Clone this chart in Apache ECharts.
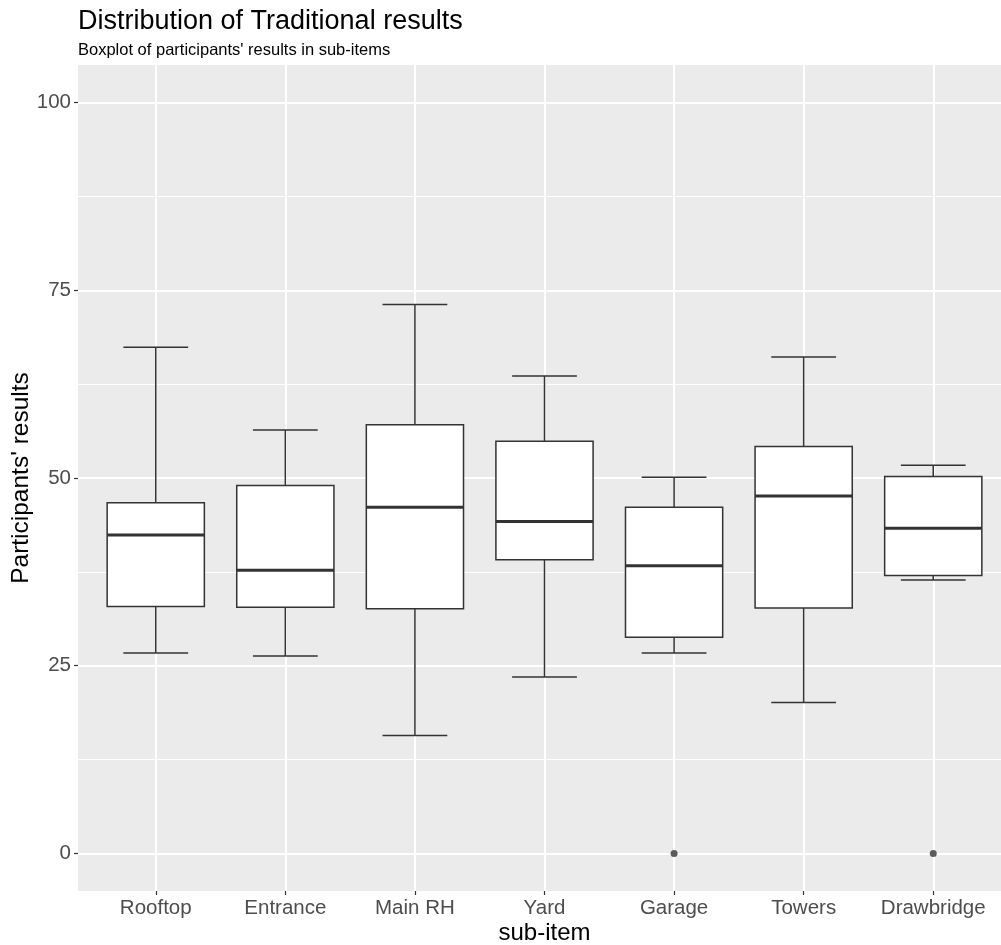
<!DOCTYPE html>
<html>
<head>
<meta charset="utf-8">
<script src="https://cdn.jsdelivr.net/npm/echarts@6/dist/echarts.min.js"></script>
<style>
html,body{margin:0;padding:0;background:#fff;}
#chart{width:1001px;height:945px;}
</style>
</head>
<body>
<div id="chart"></div>
<script>
// ---- data ----
const categories = ['Rooftop', 'Entrance', 'Main RH', 'Yard', 'Garage', 'Towers', 'Drawbridge'];
const whiskerLow = [26.7, 26.3, 15.7, 23.5, 26.7, 20.1, 36.4];
const q1 = [32.9, 32.8, 32.6, 39.1, 28.8, 32.7, 37.0];
const median = [42.4, 37.7, 46.1, 44.2, 38.3, 47.6, 43.3];
const q3 = [46.7, 49.0, 57.1, 54.9, 46.1, 54.2, 50.2];
const whiskerHigh = [67.4, 56.4, 73.1, 63.6, 50.1, 66.1, 51.7];
const outlierCategory = ['Garage', 'Drawbridge'];
const outlierValue = [0, 0];
const yTicks = [0, 25, 50, 75, 100];
const yMinorTicks = [12.5, 37.5, 62.5, 87.5];

// ---- build ----
const FONT = 'Liberation Sans, Arial, sans-serif';
const boxData = categories.map((c, i) => [i, whiskerLow[i], q1[i], median[i], q3[i], whiskerHigh[i]]);
const outlierData = outlierCategory.map((c, k) => [categories.indexOf(c), outlierValue[k]]);
const catIdx = categories.map((c, i) => i);

const chart = echarts.init(document.getElementById('chart'), null, {renderer: 'canvas'});

const option = {
  backgroundColor: '#ffffff',
  animation: false,
  title: [
    {text: 'Distribution of Traditional results', left: 78, top: 8, padding: 0,
     textStyle: {fontFamily: FONT, fontSize: 27, fontWeight: 'normal', color: '#000', lineHeight: 27}},
    {text: "Boxplot of participants' results in sub-items", left: 78, top: 42, padding: 0,
     textStyle: {fontFamily: FONT, fontSize: 16.5, fontWeight: 'normal', color: '#000', lineHeight: 17}}
  ],
  grid: {left: 78, top: 65, width: 933, height: 826, show: true, backgroundColor: '#EBEBEB',
         borderWidth: 0, containLabel: false, outerBoundsMode: 'none'},
  xAxis: {
    type: 'value', min: -0.6, max: 6.6,
    name: 'sub-item', nameLocation: 'middle', nameGap: 30, nameMoveOverlap: false,
    nameTextStyle: {fontFamily: FONT, fontSize: 24, color: '#000'},
    axisLine: {show: false, onZero: false},
    axisTick: {show: true, length: 4, customValues: catIdx, lineStyle: {color: '#333333', width: 1.2}},
    axisLabel: {customValues: catIdx, margin: 7, fontFamily: FONT, fontSize: 20.5, color: '#4D4D4D',
      formatter: v => categories[Math.round(v)] || ''},
    splitLine: {show: true, lineStyle: {color: '#ffffff', width: 2}}
  },
  yAxis: [
    {
      type: 'value', min: -5, max: 105,
      name: "Participants' results", nameLocation: 'middle', nameGap: 44, nameMoveOverlap: false,
      nameTextStyle: {fontFamily: FONT, fontSize: 24.5, color: '#000'},
      axisLine: {show: false, onZero: false},
      axisTick: {show: true, length: 4, customValues: yTicks, lineStyle: {color: '#333333', width: 1.2}},
      axisLabel: {customValues: yTicks, margin: 7, fontFamily: FONT, fontSize: 20.5, color: '#4D4D4D'},
      splitLine: {show: true, lineStyle: {color: '#ffffff', width: 2}},
      z: 2
    },
    {
      type: 'value', min: -5, max: 105, position: 'left',
      axisLine: {show: false, onZero: false},
      axisTick: {show: false, customValues: yMinorTicks},
      axisLabel: {show: false, customValues: yMinorTicks},
      splitLine: {show: true, lineStyle: {color: '#ffffff', width: 1}},
      z: 1
    }
  ],
  series: [
    {
      type: 'custom',
      data: boxData,
      encode: {x: 0, y: [1, 2, 3, 4, 5]},
      z: 5,
      renderItem: function (params, api) {
        const x = api.value(0);
        const pLo = api.coord([x, api.value(1)]);
        const pQ1 = api.coord([x, api.value(2)]);
        const pMd = api.coord([x, api.value(3)]);
        const pQ3 = api.coord([x, api.value(4)]);
        const pHi = api.coord([x, api.value(5)]);
        const band = api.size([1, 0])[0];
        const bw = band * 0.75, cw = band * 0.5;
        const cx = pLo[0];
        const ls = {stroke: '#333333', lineWidth: 1.5, fill: null};
        return {
          type: 'group',
          children: [
            {type: 'line', shape: {x1: cx, y1: pHi[1], x2: cx, y2: pQ3[1]}, style: ls},
            {type: 'line', shape: {x1: cx, y1: pQ1[1], x2: cx, y2: pLo[1]}, style: ls},
            {type: 'line', shape: {x1: cx - cw / 2, y1: pHi[1], x2: cx + cw / 2, y2: pHi[1]}, style: ls},
            {type: 'line', shape: {x1: cx - cw / 2, y1: pLo[1], x2: cx + cw / 2, y2: pLo[1]}, style: ls},
            {type: 'rect', shape: {x: cx - bw / 2, y: pQ3[1], width: bw, height: pQ1[1] - pQ3[1]},
             style: {fill: '#ffffff', stroke: '#333333', lineWidth: 1.5}},
            {type: 'line', shape: {x1: cx - bw / 2, y1: pMd[1], x2: cx + bw / 2, y2: pMd[1]},
             style: {stroke: '#333333', lineWidth: 3}}
          ]
        };
      }
    },
    {
      type: 'scatter',
      data: outlierData,
      symbol: 'circle',
      symbolSize: 7,
      itemStyle: {color: '#333333'},
      z: 6
    }
  ]
};
chart.setOption(option);
</script>
</body>
</html>
